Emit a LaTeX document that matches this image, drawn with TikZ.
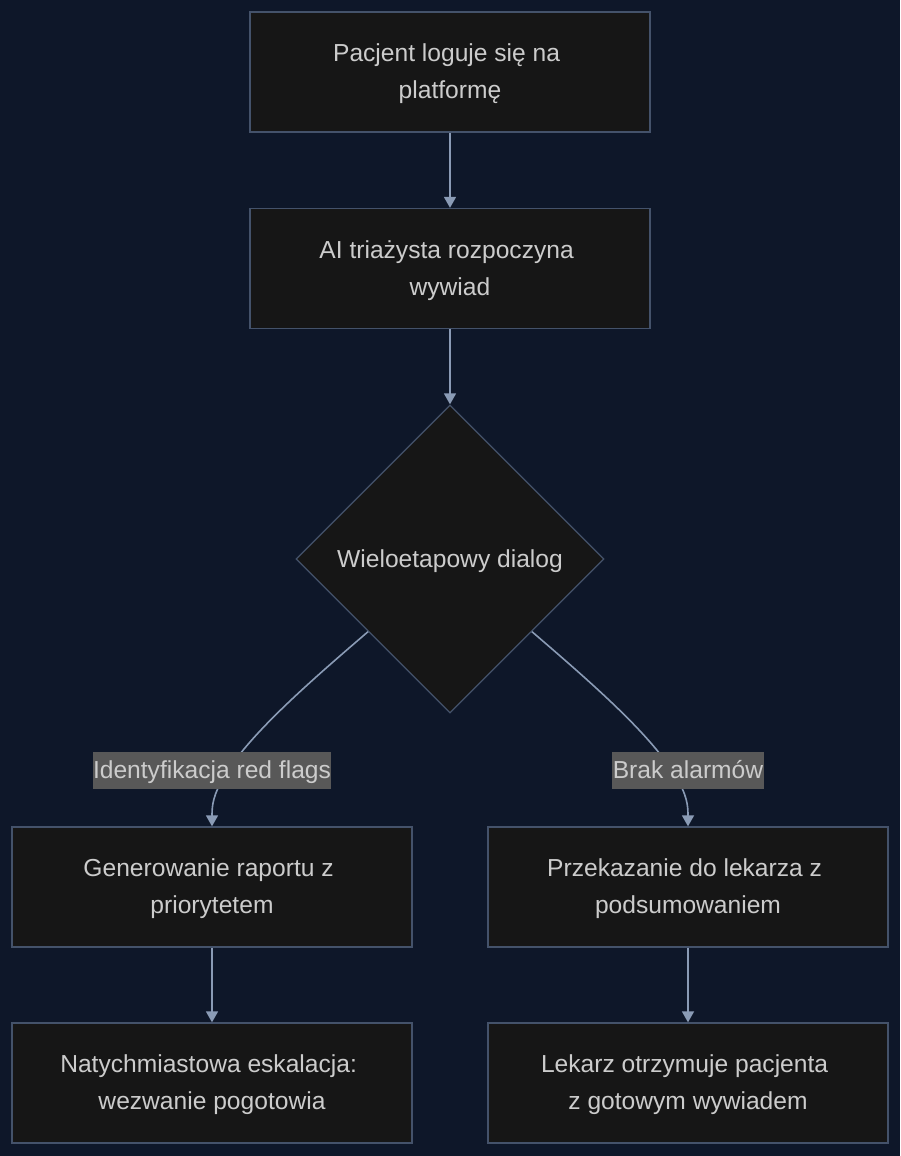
\documentclass[tikz,border=0pt]{standalone}
\usepackage{fontspec}
\setmainfont{Liberation Sans}
\usetikzlibrary{shapes.geometric,arrows.meta,calc}
\definecolor{bgc}{HTML}{0E1729}
\definecolor{boxfill}{HTML}{161616}
\definecolor{boxline}{HTML}{44526A}
\definecolor{txt}{HTML}{CCCCCC}
\definecolor{edgec}{HTML}{8A9BB5}
\definecolor{lblbg}{HTML}{585858}
\newcommand{\tsp}{\hspace*{6.8pt}}
\newcommand{\tst}{\rule{0pt}{22pt}}
\tikzset{
  stepbox/.style={rectangle,draw=boxline,fill=boxfill,line width=1.3pt,minimum width=400pt,minimum height=120pt,align=center,text=txt,inner sep=0pt,
    font=\fontsize{24.6}{37}\selectfont},
  decision/.style={diamond,draw=boxline,fill=boxfill,line width=1.3pt,minimum width=308pt,minimum height=308pt,aspect=1,align=center,text=txt,inner sep=0pt,
    text height=20pt,text depth=3.5pt,font=\fontsize{24.6}{37}\selectfont},
  conn/.style={draw=edgec,line width=1.6pt,-{Triangle[width=12pt,length=11pt]}},
  elabel/.style={fill=lblbg,text=txt,inner xsep=0.5pt,inner ysep=0pt,minimum height=37pt,text height=20pt,text depth=2.4pt,font=\fontsize{24.6}{37}\selectfont}
}
\begin{document}
\begin{tikzpicture}[x=1pt,y=-1pt]
\fill[bgc] (0,0) rectangle (900,1156);
\useasboundingbox (0,0) rectangle (900,1156);
\node[stepbox] (a) at (450,72) {\tst Pacjent loguje się na\tsp\\platformę};
\node[stepbox] (b) at (450,268.5) {\tst AI triażysta rozpoczyna\tsp\\wywiad};
\node[decision] (d) at (450,559) {Wieloetapowy dialog};
\node[stepbox] (g1) at (212,887) {\tst Generowanie raportu z\tsp\\priorytetem};
\node[stepbox] (g2) at (212,1083) {\tst Natychmiastowa eskalacja:\tsp\\wezwanie pogotowia};
\node[stepbox] (p1) at (688,887) {\tst Przekazanie do lekarza z\tsp\\podsumowaniem};
\node[stepbox] (p2) at (688,1083) {\tst Lekarz otrzymuje pacjenta\tsp\\z gotowym wywiadem};
\coordinate (ls) at ($(d.west)!0.47!(d.south)$);
\coordinate (rs) at ($(d.east)!0.47!(d.south)$);
\draw[conn] (a.south) -- (b.north);
\draw[conn] (b.south) -- (d.north);
\draw[conn] (ls) .. controls (300,690) and (250,735) .. (225,775) .. controls (213,795) and (212,805) .. (g1.north);
\draw[conn] (rs) .. controls (600,690) and (650,735) .. (675,775) .. controls (687,795) and (688,805) .. (p1.north);
\draw[conn] (g1.south) -- (g2.north);
\draw[conn] (p1.south) -- (p2.north);
\node[elabel] (l1) at (212,770) {Identyfikacja red flags};
\node[elabel] (l2) at (688,770) {Brak alarmów};
\end{tikzpicture}
\end{document}
